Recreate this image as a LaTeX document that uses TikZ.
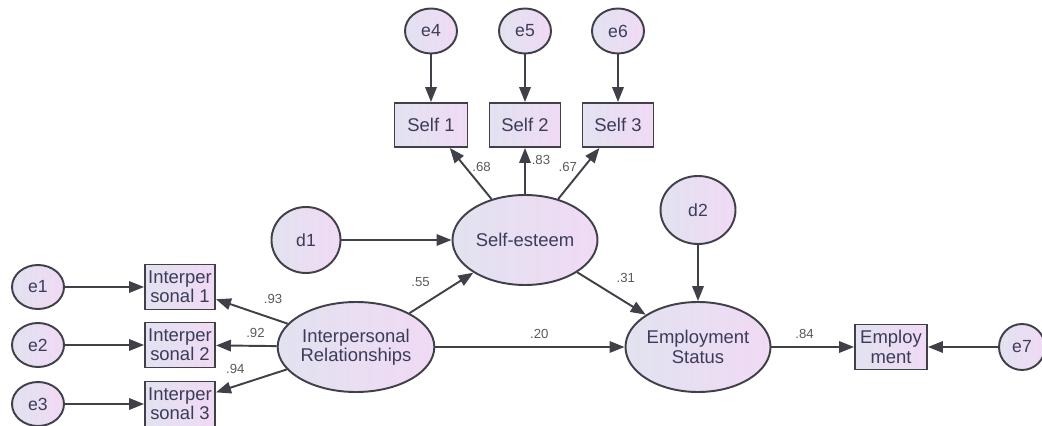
\documentclass[tikz,border=0pt]{standalone}
\usepackage{fontspec}
\setmainfont{Liberation Sans}
\usepackage{xcolor}
\usetikzlibrary{arrows.meta,shapes.geometric}

\definecolor{semline}{RGB}{64,64,72}
\definecolor{semtext}{RGB}{60,60,90}
\definecolor{lavleft}{RGB}{226,226,240}
\definecolor{lavright}{RGB}{240,218,244}

\tikzset{
    latent/.style={ellipse, draw=semline, line width=1.1pt, left color=lavleft, right color=lavright,
        text=semtext, inner sep=0pt, font=\fontsize{10.5}{11}\selectfont, align=center},
    errvar/.style={latent, font=\fontsize{10}{11}\selectfont},
    observed/.style={rectangle, draw=semline, line width=1.1pt, left color=lavleft, right color=lavright,
        text=semtext, inner sep=0pt, font=\fontsize{10.5}{11}\selectfont, align=center},
    path/.style={draw=semline, line width=1.1pt, -{Triangle[length=3mm,width=2.3mm]}},
    coef/.style={font=\fontsize{7.5}{8}\selectfont, text=black!65}
}

\begin{document}
\begin{tikzpicture}

    \useasboundingbox (0,0) rectangle (20.84,-8.52);

    % Self-esteem block
    \node[latent, minimum width=2.9cm, minimum height=1.8cm] (SE) at (10.50,-4.80) {Self-esteem};
    \node[observed, minimum width=1.46cm, minimum height=0.88cm] (S1) at (8.62,-2.50) {Self 1};
    \node[observed, minimum width=1.42cm, minimum height=0.88cm] (S2) at (10.50,-2.50) {Self 2};
    \node[observed, minimum width=1.42cm, minimum height=0.88cm] (S3) at (12.36,-2.50) {Self 3};
    \node[errvar, minimum width=1.04cm, minimum height=0.9cm] (e4) at (8.62,-0.62) {e4};
    \node[errvar, minimum width=1.04cm, minimum height=0.9cm] (e5) at (10.50,-0.62) {e5};
    \node[errvar, minimum width=1.04cm, minimum height=0.9cm] (e6) at (12.36,-0.62) {e6};
    \node[errvar, minimum width=1.38cm, minimum height=1.32cm] (d1) at (6.12,-4.80) {d1};

    % Interpersonal block
    \node[latent, minimum width=2.9cm, minimum height=1.8cm] (IR) at (7.12,-6.94) {Interpersonal\\Relationships};
    \node[observed, minimum width=1.4cm, minimum height=0.9cm] (IP1) at (3.60,-5.74) {Interper\\sonal 1};
    \node[observed, minimum width=1.4cm, minimum height=0.9cm] (IP2) at (3.60,-6.90) {Interper\\sonal 2};
    \node[observed, minimum width=1.4cm, minimum height=0.9cm] (IP3) at (3.60,-8.08) {Interper\\sonal 3};
    \node[errvar, minimum width=1.04cm, minimum height=0.88cm] (e1) at (0.76,-5.74) {e1};
    \node[errvar, minimum width=1.04cm, minimum height=0.88cm] (e2) at (0.76,-6.90) {e2};
    \node[errvar, minimum width=1.04cm, minimum height=0.88cm] (e3) at (0.76,-8.08) {e3};

    % Employment block
    \node[latent, minimum width=2.8cm, minimum height=1.8cm] (ES) at (13.96,-6.94) {Employment\\Status};
    \node[errvar, minimum width=1.5cm, minimum height=1.36cm] (d2) at (13.96,-4.20) {d2};
    \node[observed, minimum width=1.44cm, minimum height=0.9cm] (EB) at (17.82,-6.94) {Employ\\ment};
    \node[errvar, minimum width=0.92cm, minimum height=0.92cm] (e7) at (20.44,-6.94) {e7};

    % Error paths
    \draw[path] (e4) -- (S1);
    \draw[path] (e5) -- (S2);
    \draw[path] (e6) -- (S3);
    \draw[path] (e1) -- (IP1);
    \draw[path] (e2) -- (IP2);
    \draw[path] (e3) -- (IP3);
    \draw[path] (d1) -- (SE);
    \draw[path] (d2) -- (ES);
    \draw[path] (e7) -- (EB);

    % Loadings and structural paths
    \draw[path] (SE) -- (S1) node[coef, pos=0.62, right=0pt] {.68};
    \draw[path] (SE) -- (S2) node[coef, pos=0.75, right=0pt] {.83};
    \draw[path] (SE) -- (S3) node[coef, pos=0.62, left=0pt] {.67};
    \draw[path] (IR) -- (IP1) node[coef, pos=0.45, above right=1pt] {.93};
    \draw[path] (IR) -- (IP2) node[coef, pos=0.35, above=1pt] {.92};
    \draw[path] (IR) -- (IP3) node[coef, pos=0.5, above left=0pt] {.94};
    \draw[path] (IR) -- (SE) node[coef, pos=0.45, above left=1pt] {.55};
    \draw[path] (SE) -- (ES) node[coef, pos=0.45, above right=1pt] {.31};
    \draw[path] (IR) -- (ES) node[coef, pos=0.55, above=1pt] {.20};
    \draw[path] (ES) -- (EB) node[coef, pos=0.4, above=1pt] {.84};

\end{tikzpicture}
\end{document}
